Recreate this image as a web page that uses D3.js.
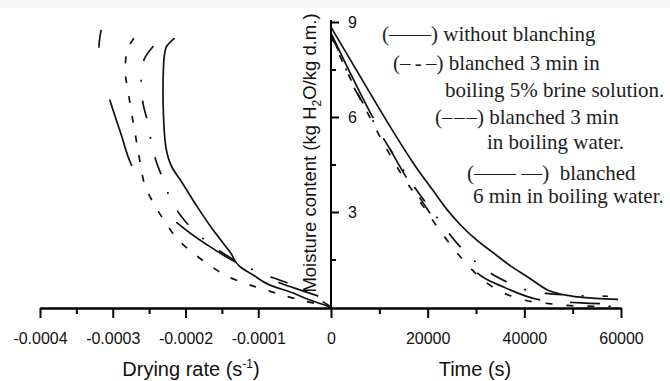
<!DOCTYPE html>
<html>
<head>
<meta charset="utf-8">
<script src="https://cdn.jsdelivr.net/npm/d3@7"></script>
<style>
  body { margin: 0; background: #fff; }
</style>
</head>
<body>
<svg id="chart" width="670" height="381"></svg>
<script>
// drying rate (s^-1) vs moisture content (kg H2O/kg d.m.)
const rateNoBlanch = [
  [-0.000215, 8.49], [-0.000227, 8.18], [-0.000230, 7.70], [-0.000231, 6.85], [-0.000230, 5.90],
  [-0.000227, 5.05], [-0.000218, 4.39], [-0.000207, 4.01], [-0.000184, 3.17], [-0.000162, 2.43],
  [-0.000138, 1.71], [-0.000125, 1.27], [-0.000107, 1.01], [-0.000084, 0.69], [-0.000052, 0.44],
  [-0.000029, 0.22], [0, 0]
];
const rateBrine3 = [
  [-0.000244, 8.24], [-0.000258, 7.74], [-0.000261, 7.07], [-0.000258, 6.38], [-0.000252, 5.84],
  [-0.000247, 5.21], [-0.000240, 4.58], [-0.000232, 4.10], [-0.000221, 3.44], [-0.000207, 2.90],
  [-0.000189, 2.43], [-0.000168, 2.02], [-0.000138, 1.55], [-0.000097, 1.07], [-0.000060, 0.76],
  [-0.000029, 0.41], [0, 0]
];
const rateWater3 = [
  [-0.000271, 8.49], [-0.000277, 8.27], [-0.000282, 7.86], [-0.000283, 7.48], [-0.000281, 7.07],
  [-0.000277, 6.54], [-0.000272, 5.84], [-0.000267, 5.18], [-0.000262, 4.52], [-0.000255, 3.79],
  [-0.000244, 3.28], [-0.000227, 2.65], [-0.000210, 2.12], [-0.000186, 1.64], [-0.000163, 1.26],
  [-0.000141, 0.95], [-0.000111, 0.69], [-0.000080, 0.47], [-0.000052, 0.28], [0, 0]
];
const rateWater6 = [
  [-0.000316, 8.75], [-0.000319, 8.18], [-0.000314, 7.33], [-0.000304, 6.54], [-0.000289, 5.49],
  [-0.000273, 4.43], [-0.000244, 3.47], [-0.000211, 2.65], [-0.000170, 1.96], [-0.000129, 1.39],
  [-0.000097, 1.04], [-0.000070, 0.76], [-0.000043, 0.54], [-0.000015, 0.32], [0, 0]
];

// time (s) vs moisture content
const timeNoBlanch = [
  [0, 8.84], [6000, 7.29], [12300, 5.68], [17000, 4.55], [21200, 3.66], [24100, 3.06],
  [26800, 2.59], [30100, 2.12], [33600, 1.71], [37200, 1.29], [40700, 0.95], [44800, 0.54],
  [49600, 0.35], [54800, 0.27], [59400, 0.24]
];
const timeBrine3 = [
  [0, 8.6], [2500, 7.75], [3900, 7.2], [6600, 6.44], [10200, 5.49], [14300, 4.48], [17000, 3.85],
  [21200, 2.97], [26800, 1.89], [29500, 1.48], [33000, 1.07], [36800, 0.76], [40300, 0.54],
  [44400, 0.43], [48600, 0.38], [52700, 0.35], [57300, 0.34]
];
const timeWater3 = [
  [0, 8.56], [3950, 7.23], [8100, 5.97], [11200, 5.08], [14300, 4.26], [18500, 3.31],
  [22600, 2.40], [26800, 1.58], [30500, 0.98], [34100, 0.57], [39200, 0.25], [45500, 0.10],
  [51700, 0.03], [57900, 0.02]
];
const timeWater6 = [
  [0, 8.65], [4400, 7.26], [8700, 5.97], [12300, 4.96], [15400, 4.14], [19100, 3.28],
  [22600, 2.49], [26400, 1.74], [30300, 1.07], [35700, 0.63], [43400, 0.22], [51700, 0.13],
  [59400, 0.09]
];

// ticks
const rateMajor = [-0.0004, -0.0003, -0.0002, -0.0001, 0];
const rateMinor = [-0.00035, -0.00025, -0.00015];
const timeMajor = [20000, 40000, 60000];
const timeMinor = [10000, 30000, 50000];
const moistMajor = [3, 6, 9];
const moistMinor = [1.5, 4.5, 7.5];

const legendLines = [
  "(\u2014\u2014) without blanching",
  "(\u2013\u2009-\u2009\u2013) blanched 3 min in",
  "boiling 5% brine solution.",
  "(\u2013\u200a\u2013\u200a\u2013) blanched 3 min",
  "in boiling water.",
  "(\u2014\u2014 \u2014)\u00a0 blanched",
  "6 min in boiling water."
];

const sans = '"Liberation Sans", Arial, sans-serif';
const serif = '"Liberation Serif", "Times New Roman", serif';

const svg = d3.select('#chart');
svg.append('rect').attr('width', 670).attr('height', 381).attr('fill', '#fff');
svg.append('rect').attr('width', 670).attr('height', 8).attr('fill', '#f6f6f6');

const xRate = d3.scaleLinear().domain([-0.0004, 0]).range([40, 331]);
const xTime = d3.scaleLinear().domain([0, 60000]).range([331, 621]);
const yM = d3.scaleLinear().domain([0, 9]).range([307, 22]);
const axisY = 308;

// curves: moisture falls monotonically, so monotone interpolation keeps them smooth
const lineRate = d3.line().x(d => xRate(d[0])).y(d => yM(d[1])).curve(d3.curveMonotoneY);
const lineTime = d3.line().x(d => xTime(d[0])).y(d => yM(d[1])).curve(d3.curveMonotoneX);

const curves = [
  {data: rateNoBlanch, line: lineRate, dash: null},
  {data: rateBrine3,  line: lineRate, dash: '18,19,2,19'},
  {data: rateWater3,  line: lineRate, dash: '7,13'},
  {data: rateWater6,  line: lineRate, dash: '18,53,70,72,72,47,42,40'},
  {data: timeNoBlanch, line: lineTime, dash: null},
  {data: timeBrine3,  line: lineTime, dash: '18,19,2,19'},
  {data: timeWater3,  line: lineTime, dash: '7,14'},
  {data: timeWater6,  line: lineTime, dash: '95,36,32,24,19,76,69,30,30,40'}
];

const gCurves = svg.append('g');
curves.forEach(c => {
  gCurves.append('path')
    .attr('d', c.line(c.data))
    .attr('fill', 'none')
    .attr('stroke', '#111')
    .attr('stroke-width', 1.7)
    .attr('stroke-dasharray', c.dash);
});

// bottom axes
function styleAxis(g) {
  g.select('.domain').attr('stroke', '#000').attr('stroke-width', 2);
  g.selectAll('.tick line').attr('stroke', '#000').attr('stroke-width', 2);
  g.selectAll('text').attr('font-family', sans).attr('font-size', 16).attr('fill', '#111');
}

const rateFmt = d => d === 0 ? '0' : d.toFixed(4);
svg.append('g').attr('transform', `translate(0,${axisY})`)
  .call(d3.axisBottom(xRate).tickValues(rateMajor).tickFormat(rateFmt).tickSize(10).tickSizeOuter(0).tickPadding(15))
  .call(styleAxis);
svg.append('g').attr('transform', `translate(0,${axisY})`)
  .call(d3.axisBottom(xRate).tickValues(rateMinor).tickFormat('').tickSize(6).tickSizeOuter(0))
  .call(styleAxis);
svg.append('g').attr('transform', `translate(0,${axisY})`)
  .call(d3.axisBottom(xTime).tickValues(timeMajor).tickFormat(d3.format('d')).tickSize(10).tickSizeOuter(0).tickPadding(15))
  .call(styleAxis);
svg.append('g').attr('transform', `translate(0,${axisY})`)
  .call(d3.axisBottom(xTime).tickValues(timeMinor).tickFormat('').tickSize(6).tickSizeOuter(0))
  .call(styleAxis);

// y axis at x = 0 / t = 0
const gy = svg.append('g').attr('transform', `translate(${xTime(0)},0)`)
  .call(d3.axisRight(yM).tickValues(moistMajor).tickSize(8).tickSizeOuter(0).tickPadding(9))
  .call(styleAxis);
gy.select('.domain').attr('d', `M0,${axisY}V20`);
svg.append('g').attr('transform', `translate(${xTime(0)},0)`)
  .call(d3.axisRight(yM).tickValues(moistMinor).tickFormat('').tickSize(5).tickSizeOuter(0))
  .call(styleAxis)
  .select('.domain').remove();

// axis titles
const tRate = svg.append('text').attr('x', 191).attr('y', 376)
  .attr('text-anchor', 'middle').attr('font-family', sans).attr('font-size', 20).attr('fill', '#111');
tRate.append('tspan').text('Drying rate (s');
tRate.append('tspan').attr('font-size', 12).attr('dy', -8).text('-1');
tRate.append('tspan').attr('dy', 8).text(')');

svg.append('text').attr('x', 475).attr('y', 376)
  .attr('text-anchor', 'middle').attr('font-family', sans).attr('font-size', 20).attr('fill', '#111')
  .text('Time (s)');

const tM = svg.append('text')
  .attr('transform', 'translate(316,153) rotate(-90)')
  .attr('text-anchor', 'middle').attr('font-family', sans).attr('font-size', 18.5).attr('fill', '#111');
tM.append('tspan').text('Moisture content (kg H');
tM.append('tspan').attr('font-size', 12).attr('dy', 5).text('2');
tM.append('tspan').attr('dy', -5).text('O/kg d.m.)');

// legend
const legX = [382, 393, 445, 435, 487, 467, 473];
const legY = [41, 70, 97, 124, 149, 180, 203];
svg.append('g').selectAll('text').data(legendLines).enter().append('text')
  .attr('x', (d, i) => legX[i])
  .attr('y', (d, i) => legY[i])
  .attr('font-family', serif)
  .attr('font-size', 21)
  .attr('fill', '#1d1d24')
  .text(d => d);
</script>
</body>
</html>
